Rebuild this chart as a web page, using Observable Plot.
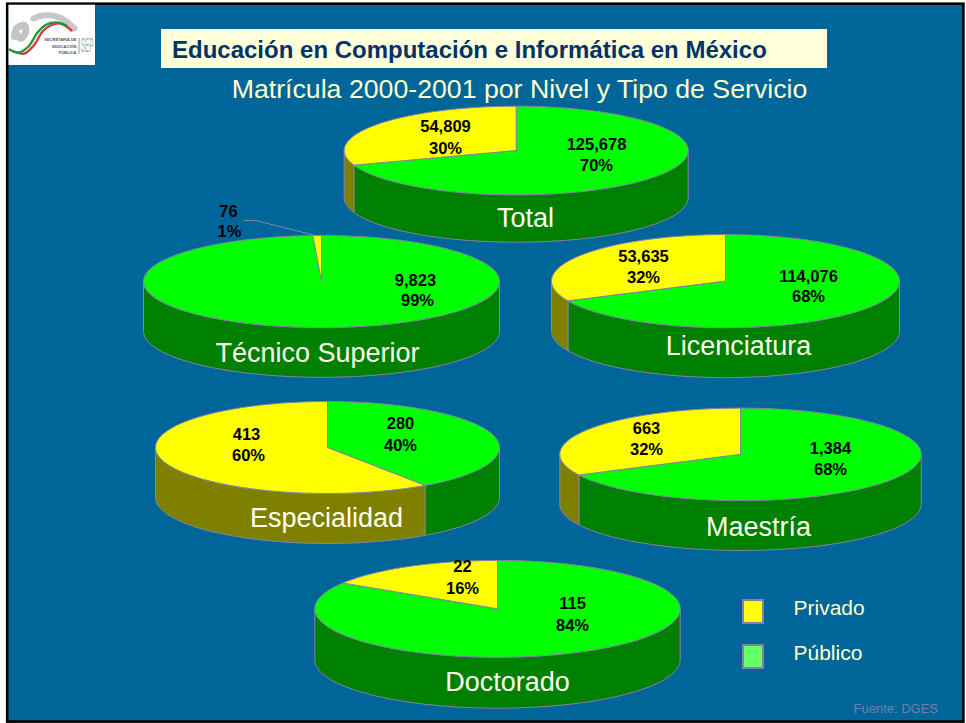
<!DOCTYPE html>
<html lang="es">
<head>
<meta charset="utf-8">
<title>Educación en Computación e Informática en México</title>
<style>
html,body{margin:0;padding:0;background:#fff;overflow:hidden}
svg{display:block}
</style>
<script src="https://cdn.jsdelivr.net/npm/d3@7"></script>
<script src="https://cdn.jsdelivr.net/npm/@observablehq/plot@0.6"></script>
</head>
<body>
<div id="chart"></div>
<script>
// ---- data ----
const levels  = ["Total", "Técnico Superior", "Licenciatura", "Especialidad", "Maestría", "Doctorado"];
const publico = [125678, 9823, 114076, 280, 1384, 115];
const privado = [54809, 76, 53635, 413, 663, 22];
const titleText = "Educación en Computación e Informática en México";
const subtitleText = "Matrícula 2000-2001 por Nivel y Tipo de Servicio";
const legendNames = ["Privado", "Público"];
const sourceText = "Fuente: DGES";

// ---- layout (page pixels) ----
const W = 966, H = 723;
const pieCx = [515.7, 321, 725, 327, 740, 497];
const pieCy = [150, 281, 280.6, 447, 453.8, 608.3];
const pieRx = [172, 178, 174, 172, 180.7, 182.7];
const pieRy = [44.3, 46, 46.5, 46, 46.2, 48.4];
const pieDepth = [47.4, 49.8, 50, 50, 50, 51];
const nameX = [525, 317, 738, 326, 758, 507];
const nameY = [218, 353, 346, 518, 527, 682];
// [value line x, value line y, percent line x, percent line y]
const pubLabelPos = [[596,144,596,165],[415,280,417,300],[808,276,808,296],[400,423,400,445],[830,448,830,469],[572,603,572,625]];
const privLabelPos = [[445,126,445,148],[228,211,229,231],[643,256,643,277],[246,434,248,455],[646,428,646,449],[462,566,462,588]];

// ---- colours ----
const partNames = ["Privado", "Público", "Privado lateral", "Público lateral"];
const partColors = ["#ffff00", "#00ff00", "#808000", "#008000"];
const edge = "#8484a0", bg = "#006699", cream = "#ffffcc", nameColor = "#ffffee";

// ---- slice geometry, derived from the values ----
const STEP = Math.PI / 90;
function arc(i, a, b, dy = 0) {
  const n = Math.max(2, Math.ceil((b - a) / STEP));
  return d3.range(n + 1).map(k => {
    const t = a + (b - a) * k / n;
    return {x: pieCx[i] + pieRx[i] * Math.sin(t), y: pieCy[i] - pieRy[i] * Math.cos(t) + dy};
  });
}
const walls = [], tops = [];
levels.forEach((lvl, i) => {
  const split = 2 * Math.PI * publico[i] / (publico[i] + privado[i]);
  const slices = [["Público", 0, split], ["Privado", split, 2 * Math.PI]];
  for (const [part, a, b] of slices) {
    const c = {x: pieCx[i], y: pieCy[i]};
    const id = lvl + part;
    [c, ...arc(i, a, b), c].forEach(p => tops.push({...p, id, part}));
    const fa = Math.max(a, Math.PI / 2), fb = Math.min(b, 3 * Math.PI / 2);
    if (fb > fa) {
      const up = arc(i, fa, fb), down = arc(i, fa, fb, pieDepth[i]).reverse();
      [...up, ...down, up[0]].forEach(p => walls.push({...p, id, part: part + " lateral"}));
    }
  }
});

// ---- data labels ----
const pct = d3.format(".0%"), num = d3.format(",");
const dataLabels = levels.flatMap((lvl, i) => {
  const sum = publico[i] + privado[i];
  const pu = pubLabelPos[i], pr = privLabelPos[i];
  return [
    {x: pu[0], y: pu[1], t: num(publico[i])},
    {x: pu[2], y: pu[3], t: pct(publico[i] / sum)},
    {x: pr[0], y: pr[1], t: num(privado[i])},
    {x: pr[2], y: pr[3], t: pct(privado[i] / sum)}
  ];
});
const nameLabels = levels.map((t, i) => ({t, x: nameX[i], y: nameY[i]}));

// ---- decoration ----
const leader = [{x: 243, y: 220}, {x: 255, y: 220}, {x: 313, y: 234.5}];
const legendY = [600, 645], legendFill = ["#ffff00", "#66ff66"], legendTextY = [607.5, 653];
const logoEagle = [{x:14,y:36},{x:16,y:28},{x:24,y:25},{x:25,y:32},{x:20,y:38},{x:16,y:33}];
const logoArc = [{x:33,y:18},{x:42,y:15},{x:56,y:16},{x:66,y:21},{x:74,y:28}];
const logoGreen = [{x:9,y:49},{x:18,y:52},{x:28,y:46},{x:37,y:32},{x:46,y:24},{x:56,y:22},{x:66,y:25}];
const logoRed = [{x:13,y:51},{x:24,y:53},{x:34,y:44},{x:42,y:31},{x:50,y:25},{x:60,y:23},{x:71,y:30}];
const logoText = [["SECRETARÍA DE", 39.5], ["EDUCACIÓN", 46], ["PÚBLICA", 52.5]];

// stretches the narrow, tall "SEP" of the logo about its own centre
const stretchSep = (index, scales, values, dims, context, next) => {
  const g = next(index, scales, values, dims, context);
  g.setAttribute("transform", "translate(87 46) scale(.58 1.8) translate(-87 -46)");
  return g;
};

const font = "Liberation Sans, Arial, sans-serif";
const plot = Plot.plot({
  width: W, height: H, margin: 0,
  style: {background: "#fff", fontFamily: font},
  x: {domain: [0, W], range: [0, W], axis: null},
  y: {domain: [0, H], range: [0, H], axis: null},
  color: {type: "ordinal", domain: partNames, range: partColors},
  marks: [
    // slide frame and background
    Plot.rect([0], {x1: () => 7.2, x2: () => 963.4, y1: () => 3.7, y2: () => 721.6, fill: bg, stroke: "#000", strokeWidth: 2.6}),
    // logo
    Plot.rect([0], {x1: () => 8.5, x2: () => 95, y1: () => 4.7, y2: () => 65, fill: "#fff"}),
    Plot.line(logoEagle, {x: "x", y: "y", stroke: "#c4c4c4", strokeWidth: 7, curve: "catmull-rom"}),
    Plot.line(logoArc, {x: "x", y: "y", stroke: "#c8c8c8", strokeWidth: 6, curve: "catmull-rom"}),
    Plot.line(logoRed, {x: "x", y: "y", stroke: "#d83a3a", strokeWidth: 2.4, curve: "catmull-rom"}),
    Plot.line(logoGreen, {x: "x", y: "y", stroke: "#1c9a3c", strokeWidth: 2.4, curve: "catmull-rom"}),
    Plot.text(logoText, {x: () => 76, y: d => d[1], text: d => d[0], textAnchor: "end", fontSize: 4, fontWeight: "bold", fill: "#555"}),
    Plot.ruleX([78.5], {y1: 38, y2: 54, stroke: "#999", strokeWidth: 1}),
    Plot.text(["SEP"], {x: () => 87, y: () => 46, text: d => d, fontSize: 11, fill: "#aaa", render: stretchSep}),
    // title
    Plot.rect([0], {x1: () => 161, x2: () => 827, y1: () => 29, y2: () => 68, fill: "#ffffd9"}),
    Plot.text([titleText], {x: () => 171.5, y: () => 50, text: d => d, textAnchor: "start", fontSize: 24, fontWeight: "bold", fill: "#003366"}),
    Plot.text([subtitleText], {x: () => 519, y: () => 89, text: d => d, fontSize: 26.7, fill: cream}),
    // pies
    Plot.line(walls, {x: "x", y: "y", z: "id", fill: "part", stroke: edge, strokeWidth: 1}),
    Plot.line(tops, {x: "x", y: "y", z: "id", fill: "part", stroke: edge, strokeWidth: 1}),
    Plot.line(leader, {x: "x", y: "y", stroke: edge, strokeWidth: 1}),
    // labels
    Plot.text(dataLabels, {x: "x", y: "y", text: "t", fontSize: 16.5, fontWeight: "bold", fill: "#000"}),
    Plot.text(nameLabels, {x: "x", y: "y", text: "t", fontSize: 27, fill: nameColor}),
    // legend
    Plot.rect(legendNames, {x1: () => 743, x2: () => 763, y1: (d, i) => legendY[i], y2: (d, i) => legendY[i] + 23, fill: (d, i) => legendFill[i], stroke: edge, strokeWidth: 2}),
    Plot.text(legendNames, {x: () => 793, y: (d, i) => legendTextY[i], text: d => d, textAnchor: "start", fontSize: 21, fill: cream}),
    Plot.text([sourceText], {x: () => 853, y: () => 708, text: d => d, textAnchor: "start", fontSize: 13, fill: "#7080a8"})
  ]
});
document.getElementById("chart").append(plot);
</script>
</body>
</html>
